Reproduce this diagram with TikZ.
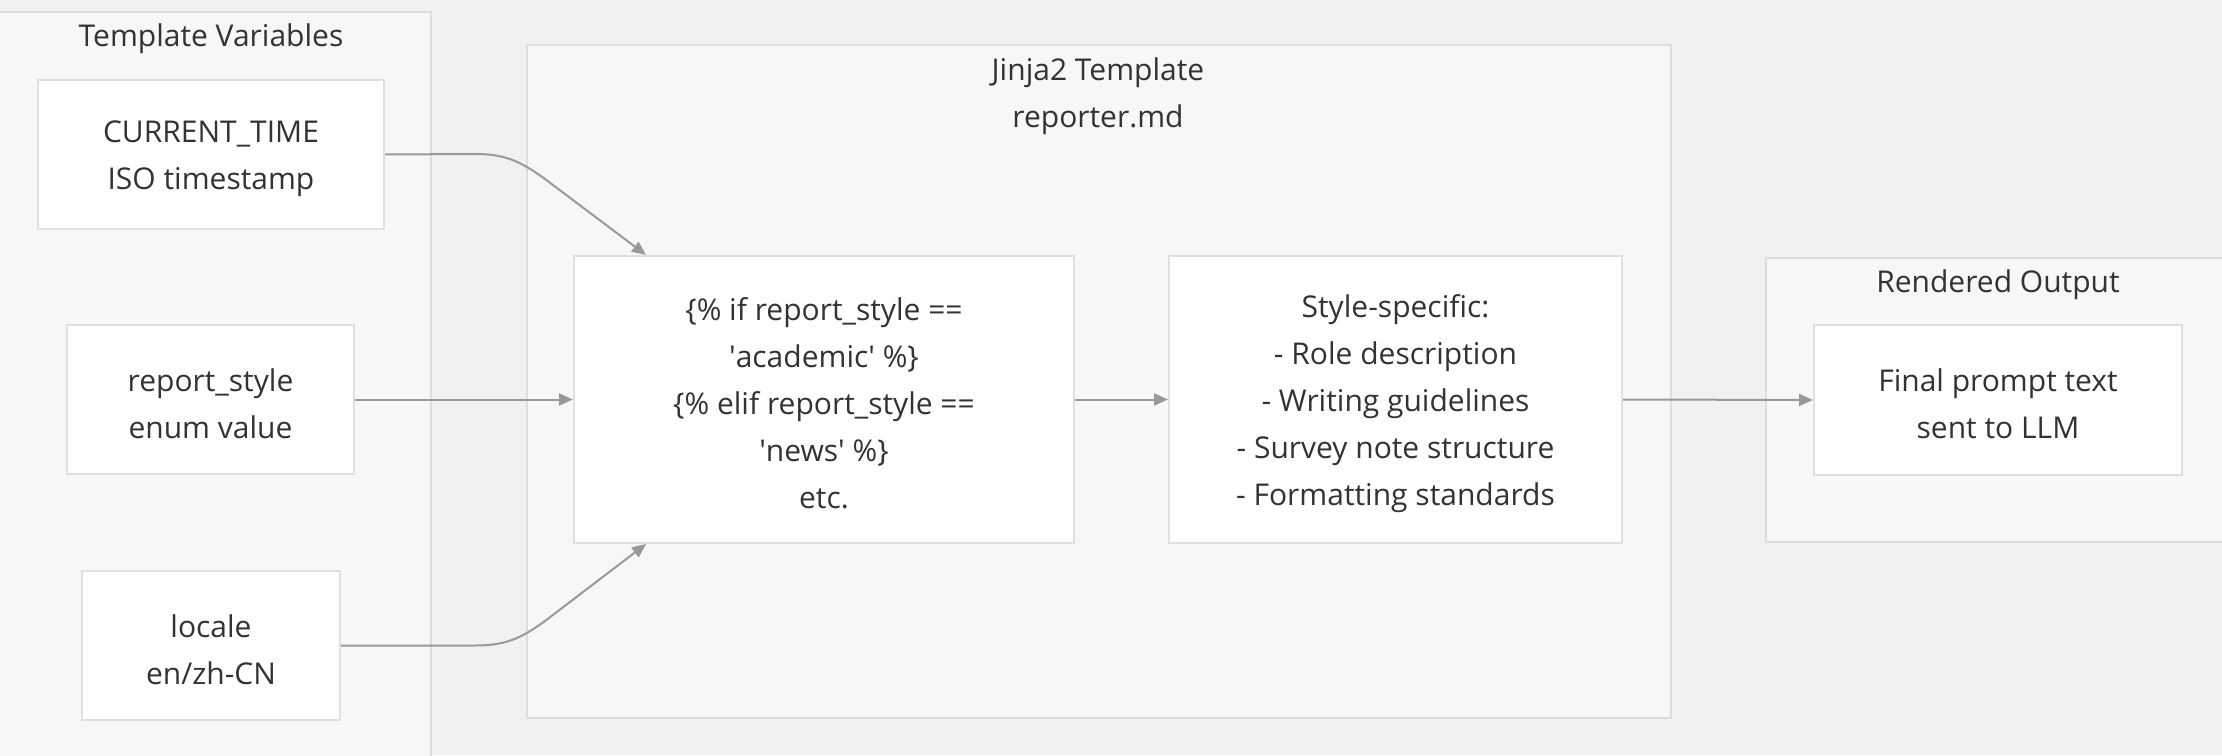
\documentclass[tikz,border=0pt]{standalone}
\usepackage{fontspec}
\setmainfont{Open Sans}
\usetikzlibrary{arrows.meta,calc}
\definecolor{bgc}{HTML}{F2F1F0}
\definecolor{clfill}{HTML}{F7F7F7}
\definecolor{clline}{HTML}{DDDDDD}
\definecolor{ndline}{HTML}{E0E0E0}
\definecolor{txt}{HTML}{333333}
\definecolor{arr}{HTML}{999999}
\newcommand{\sq}{\textquotesingle}
\tikzset{
  cluster/.style={fill=clfill, draw=clline, line width=1pt},
  box/.style={fill=white, draw=ndline, line width=1pt, inner sep=0pt},
  lbl/.style={align=center, inner sep=0pt, text=txt, yshift=-2pt,
    font=\fontsize{15}{23.5}\selectfont},
  title/.style={align=center, inner sep=0pt, text=txt, font=\fontsize{15}{23.5}\selectfont},
  conn/.style={draw=arr, line width=1pt, -{Triangle[length=7pt,width=6pt]}},
}
\begin{document}
\begin{tikzpicture}[x=0.5pt,y=-0.5pt]
\useasboundingbox (0,0) rectangle (2222,755);
\fill[bgc] (0,0) rectangle (2222,755);
\clip (0,0) rectangle (2222,755);
% clusters
\draw[cluster] (-10,12) rectangle (431,770);
\node[title] (tvt) at (211,39) {Template Variables};
\draw[cluster] (527,45) rectangle (1671,718);
\node[title] (jtt) at (1098,96) {Jinja2 Template\\reporter.md};
\draw[cluster] (1766,258) rectangle (2240,542);
\node[title] (rot) at (1998,285) {Rendered Output};
% nodes
\node[box, minimum width=173pt, minimum height=74.5pt,
  label={[lbl]center:{CURRENT\_TIME\\ISO timestamp}}] (ct) at (211,154.5) {};
\node[box, minimum width=143.5pt, minimum height=74.5pt,
  label={[lbl]center:{report\_style\\enum value}}] (rs) at (210.5,399.5) {};
\node[box, minimum width=129pt, minimum height=74.5pt,
  label={[lbl]center:{locale\\en/zh-CN}}] (loc) at (211,645.5) {};
\node[box, minimum width=250pt, minimum height=143.5pt,
  label={[lbl]center:{\{\% if report\_style ==\\\sq academic\sq{} \%\}\\\{\% elif report\_style ==\\\sq news\sq{} \%\}\\etc.}}] (tpl) at (824,399.5) {};
\node[box, minimum width=226.5pt, minimum height=143.5pt,
  label={[lbl]center:{Style-specific:\\- Role description\\- Writing guidelines\\- Survey note structure\\- Formatting standards}}] (sty) at (1395.5,399.5) {};
\node[box, minimum width=184pt, minimum height=75pt,
  label={[lbl]center:{Final prompt text\\sent to LLM}}] (fin) at (1998,400) {};
% connectors
\coordinate (tin) at ($(tpl.north west)+(73,0)$);
\coordinate (bin) at ($(tpl.south west)+(73,0)$);
\draw[conn] (ct.east) -- (475,154) .. controls (505,154) and (520,161) .. (545,179) -- (tin);
\draw[conn] (loc.east) -- (475,645.5) .. controls (505,645.5) and (520,639) .. (545,621) -- (bin);
\draw[conn] (rs.east) -- (tpl.west);
\draw[conn] (tpl.east) -- (sty.west);
\draw[conn] (sty.east) -- (fin.west);
\end{tikzpicture}
\end{document}
